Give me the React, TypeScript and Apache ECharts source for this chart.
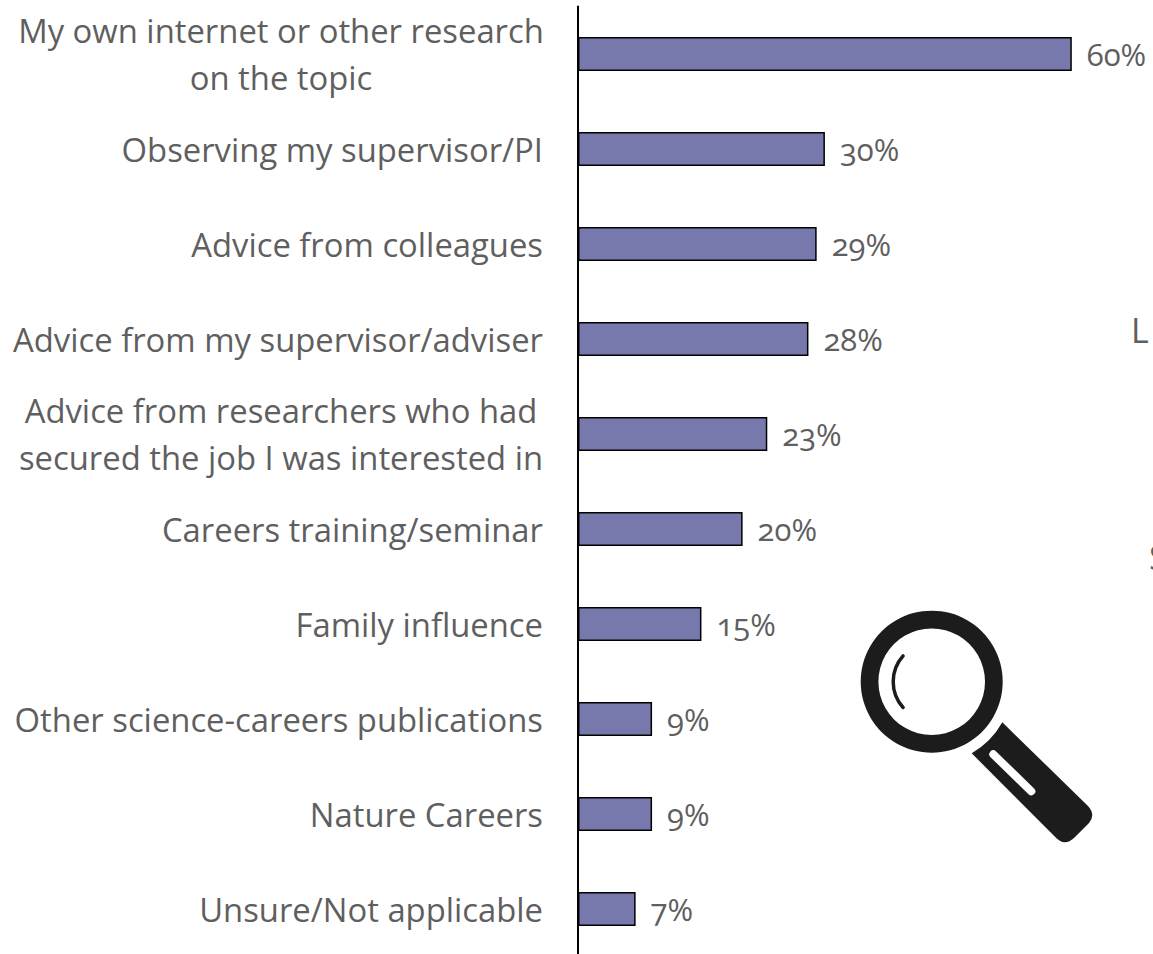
import React, { useEffect, useRef } from "react";
import * as echarts from "echarts";

const categories = [
  "My own internet or other research\non the topic",
  "Observing my supervisor/PI",
  "Advice from colleagues",
  "Advice from my supervisor/adviser",
  "Advice from researchers who had\nsecured the job I was interested in",
  "Careers training/seminar",
  "Family influence",
  "Other science-careers publications",
  "Nature Careers",
  "Unsure/Not applicable",
];
const shares = [60, 30, 29, 28, 23, 20, 15, 9, 9, 7];

const FONT = "'Open Sans', sans-serif";
const GREY = "#5f5f5f";
const ICON = "#1c1c1c";
const LABEL_SIZE = 32.8;

// Handle of the magnifying glass, with its end concentric to the lens.
const HANDLE =
  "M1002.3 722.3 L1088 806 Q1096 815 1089 823 L1074 838 Q1064 847 1055 836.7 L971.7 753.3 A81.5 81.5 0 0 0 1002.3 722.3 Z";
echarts.graphic.registerShape("lensHandle", echarts.graphic.extendPath(HANDLE, {}) as any);

export default function App() {
  const ref = useRef<HTMLDivElement>(null);

  useEffect(() => {
    const chart = echarts.init(ref.current!, undefined, { renderer: "svg" });
    chart.setOption({
      animation: false,
      backgroundColor: "#ffffff",
      grid: { left: 578, top: 6.5, width: 823, height: 950, outerBoundsMode: "none" },
      xAxis: { type: "value", min: 0, max: 100, show: false },
      yAxis: {
        type: "category",
        inverse: true,
        data: categories,
        axisTick: { show: false },
        axisLine: { show: true, lineStyle: { color: "#000000", width: 2 } },
        axisLabel: {
          margin: 35,
          color: GREY,
          fontFamily: FONT,
          fontSize: LABEL_SIZE,
          lineHeight: 47,
          align: "right",
          formatter: (v: string) =>
            v.includes("\n")
              ? v.split("\n").map((l) => `{block|${l}}`).join("\n")
              : v,
          rich: {
            block: {
              width: 524,
              align: "center",
              color: GREY,
              fontFamily: FONT,
              fontSize: LABEL_SIZE,
              lineHeight: 47,
            },
          },
        },
      },
      series: [
        {
          type: "bar",
          data: shares,
          barWidth: 34,
          itemStyle: { color: "#7778ac", borderColor: "#000000", borderWidth: 1.5 },
          label: {
            show: true,
            position: "right",
            distance: 15,
            color: GREY,
            fontFamily: FONT,
            fontSize: 31,
            formatter: "{c}%",
          },
        },
      ],
      graphic: [
        {
          type: "text",
          x: 1131,
          y: 313,
          style: { text: "L", fontFamily: FONT, fontSize: 34, fill: GREY },
        },
        {
          type: "text",
          x: 1149,
          y: 540,
          style: { text: "S", fontFamily: FONT, fontSize: 34, fill: GREY },
        },
        {
          type: "ring",
          shape: { cx: 931.7, cy: 681.7, r: 71, r0: 53.3 },
          style: { fill: ICON },
        },
        {
          type: "arc",
          shape: {
            cx: 931.7,
            cy: 681.7,
            r: 38.5,
            startAngle: (138 * Math.PI) / 180,
            endAngle: (222 * Math.PI) / 180,
          },
          style: { stroke: ICON, lineWidth: 3.5, lineCap: "round", fill: "none" },
        },
        { type: "lensHandle", style: { fill: ICON } },
        {
          type: "line",
          shape: { x1: 993.3, y1: 754.3, x2: 1031.3, y2: 791.3 },
          style: { stroke: "#ffffff", lineWidth: 8, lineCap: "round" },
        },
      ],
    });
    return () => chart.dispose();
  }, []);

  return (
    <div
      ref={ref}
      style={{
        position: "fixed",
        left: 0,
        top: 0,
        width: 1153,
        height: 954,
        fontVariantNumeric: "oldstyle-nums",
      }}
    />
  );
}
